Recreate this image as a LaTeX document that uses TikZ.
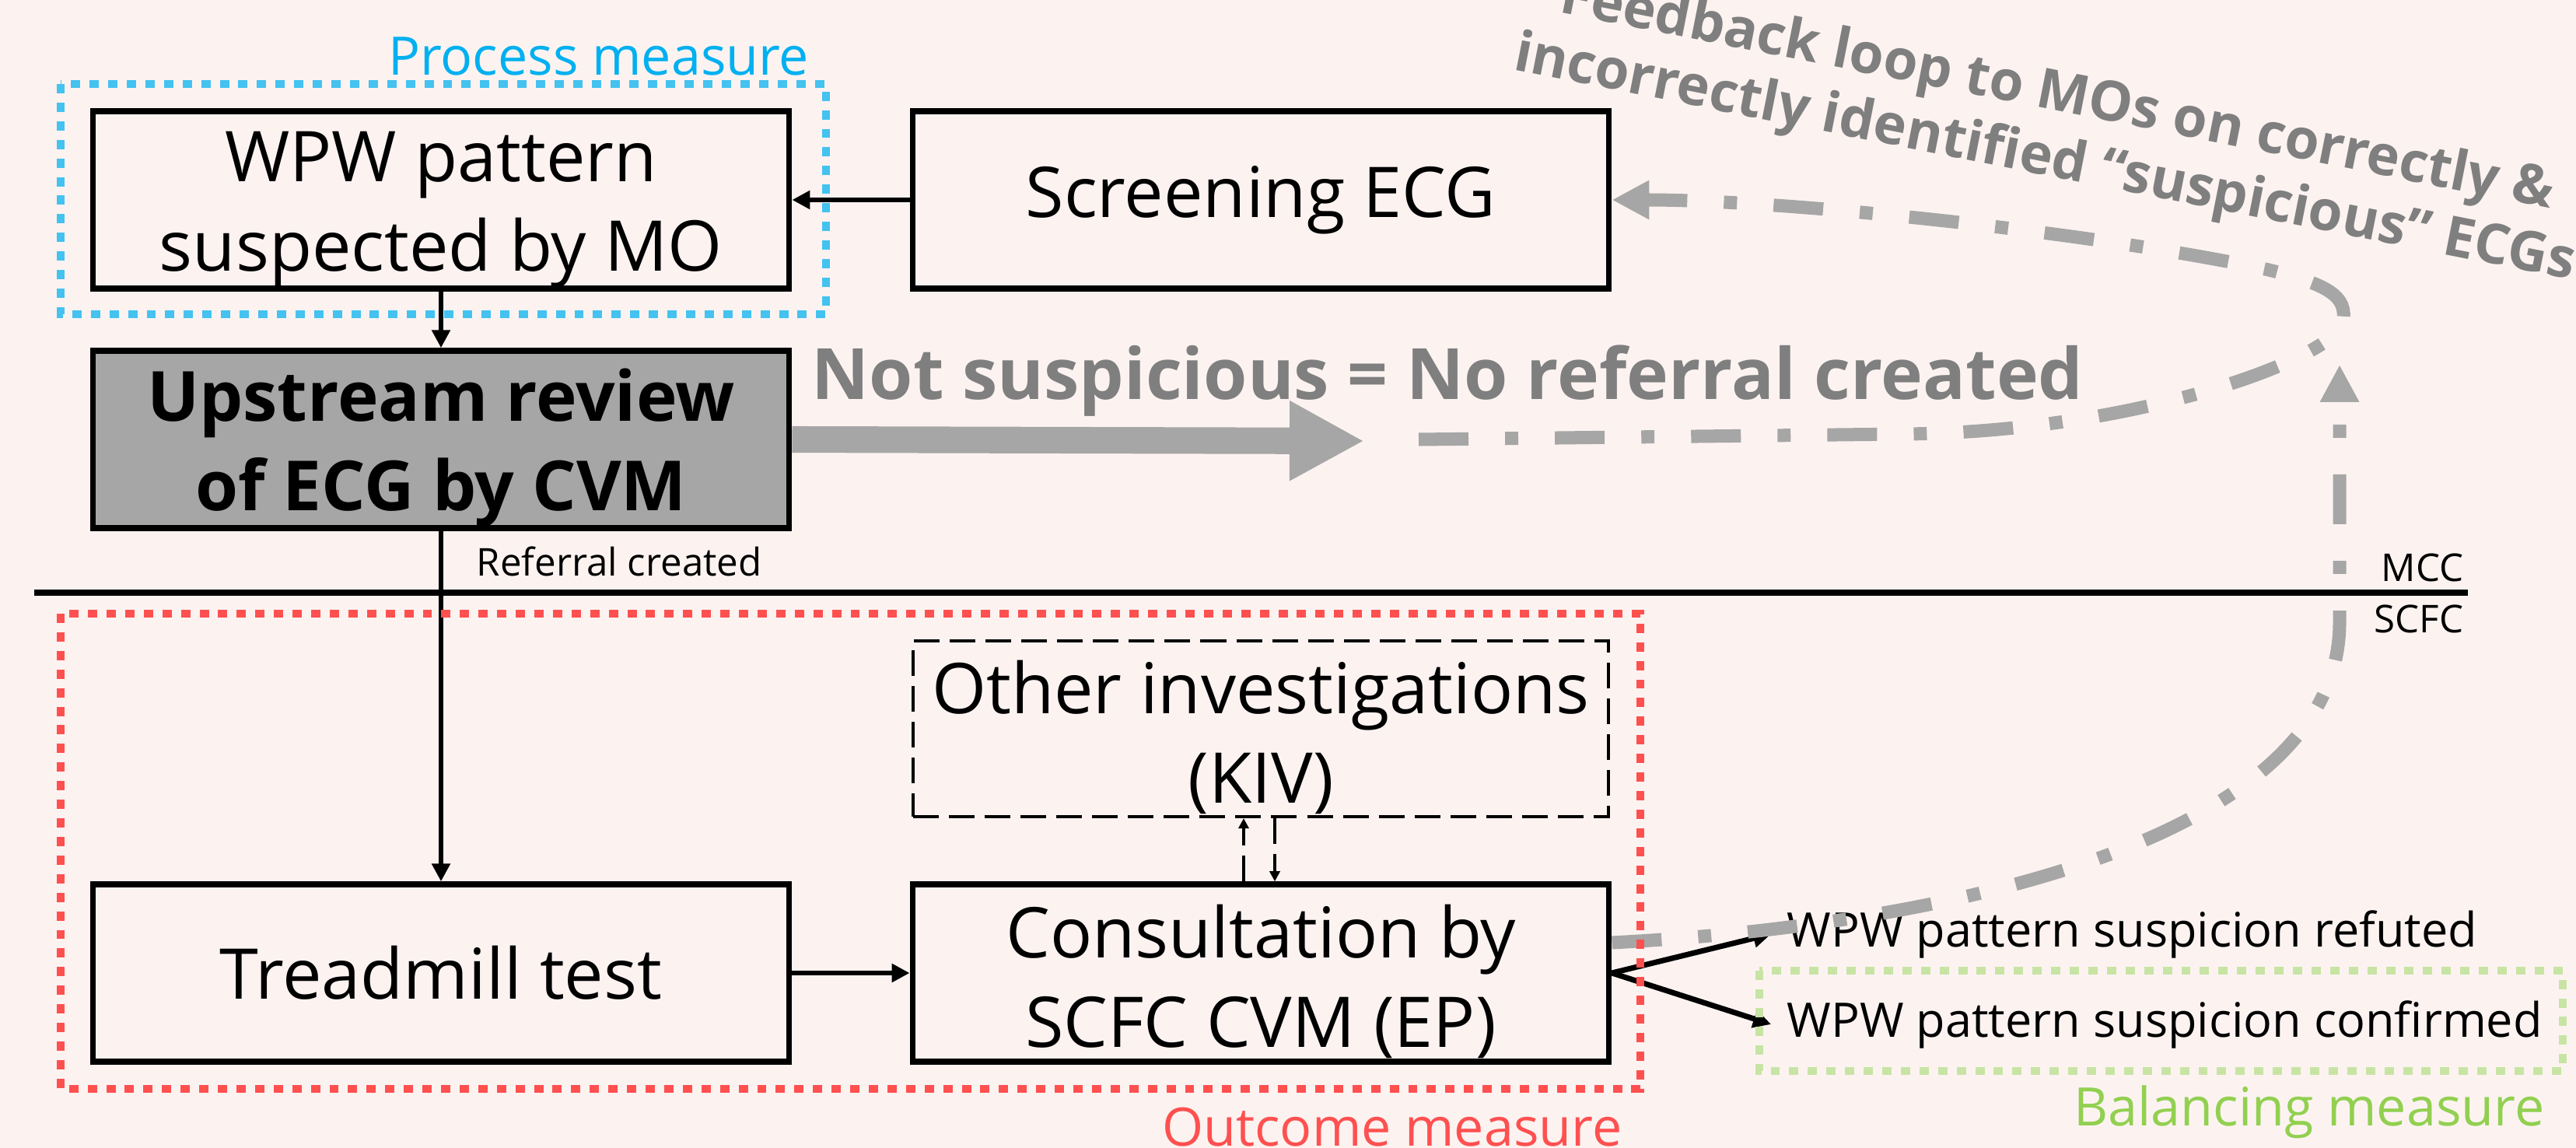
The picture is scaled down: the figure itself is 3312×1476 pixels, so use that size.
\documentclass[tikz,border=0pt]{standalone}
\usepackage{fontspec}
\setmainfont{Open Sans}
\usetikzlibrary{arrows.meta}
\definecolor{bg}{RGB}{252,243,241}
\definecolor{proctext}{RGB}{0,176,240}
\definecolor{procdot}{RGB}{68,194,240}
\definecolor{outc}{RGB}{255,80,80}
\definecolor{baltext}{RGB}{146,208,80}
\definecolor{baldot}{RGB}{200,228,164}
\definecolor{grayfill}{RGB}{166,166,166}
\definecolor{graytext}{RGB}{127,127,127}
\tikzset{
 box/.style={draw=black, line width=2.1pt, minimum width=8.95cm, minimum height=2.28cm, inner sep=0pt, align=center, font=\fontsize{25.6pt}{32.7pt}\selectfont},
 measbox/.style={line width=2.85pt, dash pattern=on 3.4pt off 3.4pt},
 arr/.style={line width=1.6pt, -{Triangle[length=6.5pt,width=6.5pt]}},
 smallarr/.style={line width=1.1pt, dash pattern=on 9.4pt off 3.7pt, -{Triangle[length=3.7pt,width=3.7pt]}},
 fb/.style={draw=grayfill, line width=4.84pt, dash pattern=on 18.2pt off 13.4pt on 4.8pt off 13.4pt, -{Triangle[length=13.6pt,width=13.4pt]}},
 meas/.style={anchor=base east, inner sep=0pt, font=\fontsize{19.4pt}{23pt}\selectfont},
 smalltxt/.style={inner sep=0pt, font=\fontsize{14pt}{17pt}\selectfont},
 outtxt/.style={anchor=base west, inner sep=0pt, font=\fontsize{17.4pt}{21pt}\selectfont},
}
\begin{document}
\begin{tikzpicture}[x=0.01cm,y=-0.01cm]
\fill[bg] (0,0) rectangle (3312,1476);
\useasboundingbox (0,0) rectangle (3312,1476);

% boxes
\node[box] (wpw) at (567,257) {\rule{0pt}{1em}WPW pattern\\suspected by MO};
\node[box] (scr) at (1621,257) {Screening ECG};
\node[box, fill=grayfill, font=\bfseries\fontsize{25.3pt}{32.7pt}\selectfont] (up) at (567,565) {\rule{0pt}{1em}Upstream review\\of ECG by CVM};
\node[box] (tread) at (567,1251) {Treadmill test};
\node[box] (cons) at (1621,1251) {\rule{0pt}{1em}Consultation by\\SCFC CVM (EP)};
\node[box, line width=1.14pt, dash pattern=on 9.4pt off 3.7pt, minimum width=8.94cm, minimum height=2.26cm] (oth) at (1621,937) {\rule{0pt}{1em}Other investigations\\(KIV)};

% divider
\coordinate (divL) at (44,762);
\coordinate (divR) at (3173,762);
\draw[line width=2pt] (divL) -- (divR);
\node[smalltxt, anchor=base west] (refc) at (612,740) {Referral created};
\node[smalltxt, anchor=base east] (mcc) at (3168,747) {MCC};
\node[smalltxt, anchor=base east] (scfc) at (3168,813) {SCFC};

% black connectors
\draw[arr] (scr.west) -- (wpw.east);
\draw[arr] (wpw.south) -- (up.north);
\draw[arr] (up.south) -- (tread.north);
\draw[arr] (tread.east) -- (cons.west);
\draw[smallarr] ([xshift=-0.22cm]cons.north) -- ([xshift=-0.22cm]oth.south);
\draw[smallarr] ([xshift=0.18cm]oth.south) -- ([xshift=0.18cm]cons.north);

% outcome texts
\node[outtxt] (refu) at (2297,1217) {WPW pattern suspicion refuted};
\node[outtxt] (conf) at (2297,1333) {WPW pattern suspicion confirmed};
\draw[arr, line width=2pt] (cons.east) -- ([xshift=-0.2cm]refu.west);
\draw[arr, line width=2pt] (cons.east) -- ([xshift=-0.2cm]conf.west);

% not suspicious
\coordinate (nsEnd) at (1754,567);
\draw[grayfill, line width=9.7pt, -{Triangle[length=27.3pt,width=27.3pt]}] (up.east) -- (nsEnd);
\node[anchor=base west, inner sep=0pt, text=graytext, font=\bfseries\fontsize{25.9pt}{31pt}\selectfont] (ns) at (1043,513) {Not suspicious = No referral created};

% feedback loops
\coordinate (nsloop) at (1824,565);
\draw[fb] (nsloop) -- (2450,558) .. controls (2750,555) and (3000,460) .. (3012,415)
  .. controls (3020,380) and (2990,365) .. (2917,347)
  .. controls (2700,300) and (2300,257) .. (scr.east);
\coordinate (c1s) at ([yshift=0.39cm]cons.east);
\coordinate (fbtip) at (3008,469);
\draw[fb] (c1s) .. controls (2500,1190) and (3008,1080) .. (3008,800) -- (fbtip);

\node[rotate=-11.2, text=graytext, align=center, inner sep=0pt, font=\bfseries\fontsize{20.3pt}{23.9pt}\selectfont] (fbtext) at (2637,165) {Feedback loop to MOs on correctly \&\\incorrectly identified “suspicious” ECGs};

% measure boxes
\draw[measbox, procdot] (78,108) rectangle (1062,404);
\node[meas, text=proctext] (proclab) at (1041,97) {Process measure};
\draw[measbox, outc] (78,789) rectangle (2109,1400);
\node[meas, text=outc] (outlab) at (2086,1473) {Outcome measure};
\draw[measbox, baldot] (2262,1248) rectangle (3295,1377);
\node[meas, text=baltext] (ballab) at (3272,1447) {Balancing measure};
\end{tikzpicture}
\end{document}
